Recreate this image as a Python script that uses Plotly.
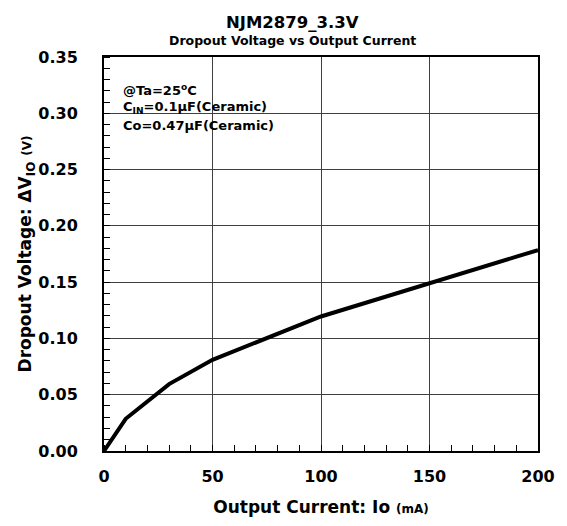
import plotly.graph_objects as go

# Data
current_mA = [0, 10, 30, 50, 100, 150, 200]
dropout_V = [0.0, 0.0286, 0.0594, 0.081, 0.1195, 0.149, 0.1785]

x_ticks = [0, 50, 100, 150, 200]
x_tick_labels = ["0", "50", "100", "150", "200"]
y_ticks = [0.00, 0.05, 0.10, 0.15, 0.20, 0.25, 0.30, 0.35]
y_tick_labels = ["0.00", "0.05", "0.10", "0.15", "0.20", "0.25", "0.30", "0.35"]

title_text = "NJM2879_3.3V"
subtitle_text = "Dropout Voltage vs Output Current"
condition_lines = [
    "@Ta=25<sup>o</sup>C",
    "C<sub>IN</sub>=0.1µF(Ceramic)",
    "Co=0.47µF(Ceramic)",
]

FONT = "DejaVu Sans, Arial, sans-serif"

fig = go.Figure()
fig.add_trace(go.Scatter(
    x=current_mA, y=dropout_V, mode="lines",
    line=dict(color="black", width=4), hoverinfo="skip", showlegend=False,
))

fig.update_layout(
    width=567, height=526,
    margin=dict(l=104, r=21, t=57, b=69),
    paper_bgcolor="white", plot_bgcolor="white",
    font=dict(family=FONT, color="black"),
    showlegend=False,
)

fig.update_xaxes(
    range=[0, 200], tickvals=x_ticks, ticktext=x_tick_labels,
    showgrid=True, gridcolor="#404040", gridwidth=1,
    showline=True, linecolor="black", linewidth=2, mirror=True,
    ticks="", zeroline=False,
    tickfont=dict(family=FONT, size=16, color="black", weight="bold"),
    ticklabelstandoff=10,
    minor=dict(dtick=10, ticks="inside", ticklen=6, tickcolor="black", tickwidth=1, showgrid=False),
    title=dict(text="<b>Output Current: Io <span style='font-size:12px'>(mA)</span></b>",
               font=dict(family=FONT, size=17, color="black"), standoff=16),
)
fig.update_yaxes(
    range=[0, 0.35], tickvals=y_ticks, ticktext=y_tick_labels,
    showgrid=True, gridcolor="#404040", gridwidth=1,
    showline=True, linecolor="black", linewidth=2, mirror=True,
    ticks="", zeroline=False,
    tickfont=dict(family=FONT, size=16, color="black", weight="bold"),
    ticklabelstandoff=21,
    minor=dict(dtick=0.01, ticks="inside", ticklen=6, tickcolor="black", tickwidth=1, showgrid=False),
    title=dict(text="<b>Dropout Voltage: ΔV<sub>IO</sub> <span style='font-size:12px'>(V)</span></b>",
               font=dict(family=FONT, size=17, color="black"), standoff=2),
)

# Titles
fig.add_annotation(text="<b>" + title_text + "</b>", xref="paper", yref="paper",
                   x=0.434, y=1, yanchor="middle", yshift=35, showarrow=False,
                   font=dict(family=FONT, size=16.5, color="black"))
fig.add_annotation(text="<b>" + subtitle_text + "</b>", xref="paper", yref="paper",
                   x=0.434, y=1, yanchor="middle", yshift=16.5, showarrow=False,
                   font=dict(family=FONT, size=12.5, color="black"))

# White box behind conditions text (covers gridlines)
fig.add_shape(type="rect", xref="paper", yref="paper",
              x0=0.004, x1=0.416, y0=0.786, y1=0.951,
              fillcolor="white", line=dict(width=0), layer="between")
cond_y = [0.915, 0.871, 0.827]
for line, yy in zip(condition_lines, cond_y):
    fig.add_annotation(
        text="<b>" + line + "</b>",
        xref="paper", yref="paper", x=0.04, y=yy, xanchor="left", yanchor="middle",
        align="left", showarrow=False,
        font=dict(family=FONT, size=13, color="black"),
    )

fig.write_html(
    "out.html",
    config={"displayModeBar": False},
    post_script="document.body.style.margin='0px';document.body.style.overflow='hidden';"
                "document.documentElement.style.overflow='hidden';",
)
